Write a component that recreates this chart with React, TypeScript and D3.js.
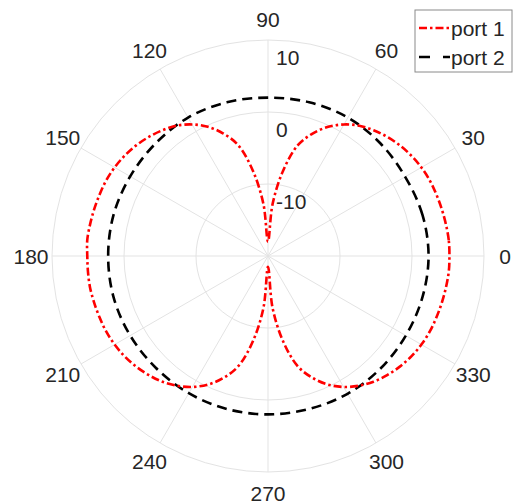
import * as d3 from "d3";
import React from "react";

// angles in degrees, gains in dB
const angles1 = d3.range(0, 360, 5);
const port1 = [
  5.2, 5.2, 5.1, 5.0, 4.9, 4.8, 4.6, 4.3, 3.9, 3.4, 2.8, 2.1, 1.1, -0.2, -1.9, -4.1, -8.0, -12.8,
  -18.0,
  -12.8, -8.0, -4.1, -1.9, -0.2, 1.1, 2.1, 2.8, 3.4, 3.9, 4.3, 4.6, 4.8, 4.9, 5.0, 5.1, 5.2,
  5.1,
  5.1, 5.1, 5.0, 4.9, 4.8, 4.6, 4.3, 3.9, 3.4, 2.8, 2.0, 1.0, -0.3, -2.0, -4.2, -8.0, -12.8,
  -18.5,
  -12.8, -8.0, -4.2, -2.0, -0.3, 1.0, 2.0, 2.8, 3.4, 3.9, 4.3, 4.6, 4.8, 4.9, 5.0, 5.1, 5.2,
];

const angles2 = d3.range(0, 360, 15);
const port2 = [
  2.3, 2.2, 2.0, 2.1, 2.2, 2.1, 2.0, 2.1, 2.2, 2.1, 2.1, 2.2,
  2.2, 2.2, 2.1, 2.0, 2.0, 2.0, 2.0, 2.0, 2.1, 2.1, 2.1, 2.2,
];

const rTicks = [-10, 0, 10];
const thetaTicks = d3.range(0, 360, 30);
const seriesNames = ["port 1", "port 2"];

const width = 521;
const height = 503;
const cx = 268;
const cy = 256;
const R = 216;
const font = "'Liberation Sans', Arial, sans-serif";
const textColor = "#262626";

export default function App() {
  const r = d3.scaleLinear().domain([-20, 10]).range([0, R]).clamp(true);
  const rad = (deg: number) => (deg * Math.PI) / 180;

  // d3 radial angle: 0 at 12 o'clock, clockwise
  const line = d3
    .lineRadial<[number, number]>()
    .angle((d) => Math.PI / 2 - rad(d[0]))
    .radius((d) => r(d[1]))
    .curve(d3.curveCatmullRomClosed.alpha(0.5));

  const d1 = line(angles1.map((a, i) => [a, port1[i]] as [number, number]));
  const d2 = line(angles2.map((a, i) => [a, port2[i]] as [number, number]));

  return (
    <svg
      width={width}
      height={height}
      style={{ position: "absolute", left: 0, top: 0, background: "#fff" }}
      fontFamily={font}
    >
      <g transform={`translate(${cx},${cy})`}>
        {/* grid circles */}
        {[-20, ...rTicks].map((t) => (
          <circle key={t} r={r(t)} fill="none" stroke="#e3e3e3" strokeWidth={1} />
        ))}
        {/* spokes */}
        {thetaTicks.map((t) => (
          <line
            key={t}
            x1={0}
            y1={0}
            x2={R * Math.cos(rad(t))}
            y2={-R * Math.sin(rad(t))}
            stroke="#e3e3e3"
            strokeWidth={1}
          />
        ))}
        {/* theta labels */}
        {thetaTicks.map((t) => (
          <text
            key={t}
            x={237 * Math.cos(rad(t))}
            y={-237 * Math.sin(rad(t))}
            textAnchor="middle"
            dominantBaseline="central"
            fontSize={21}
            fill={textColor}
          >
            {t}
          </text>
        ))}
        {/* series */}
        <path d={d2 || ""} fill="none" stroke="#000" strokeWidth={2.6} strokeDasharray="10,6" />
        <path d={d1 || ""} fill="none" stroke="#ff0000" strokeWidth={2.6} strokeDasharray="8,3,2.5,3" />
        {/* r labels */}
        {rTicks.map((t) => (
          <text
            key={t}
            x={8}
            y={-r(t) + 17}
            dominantBaseline="central"
            fontSize={21}
            fill={textColor}
          >
            {t}
          </text>
        ))}
      </g>
      {/* legend */}
      <g>
        <rect x={415} y={10} width={97} height={62} fill="#fff" stroke="#8a8a8a" strokeWidth={1} />
        {seriesNames.map((name, i) => (
          <g key={name} transform={`translate(419,${28 + i * 29})`}>
            <line
              x1={0}
              x2={31}
              y1={0}
              y2={0}
              stroke={i === 0 ? "#ff0000" : "#000"}
              strokeWidth={2.6}
              strokeDasharray={i === 0 ? "8,3,2.5,3" : "11,13"}
            />
            <text x={32} y={0} dominantBaseline="central" fontSize={21} fill={textColor}>
              {name}
            </text>
          </g>
        ))}
      </g>
    </svg>
  );
}
